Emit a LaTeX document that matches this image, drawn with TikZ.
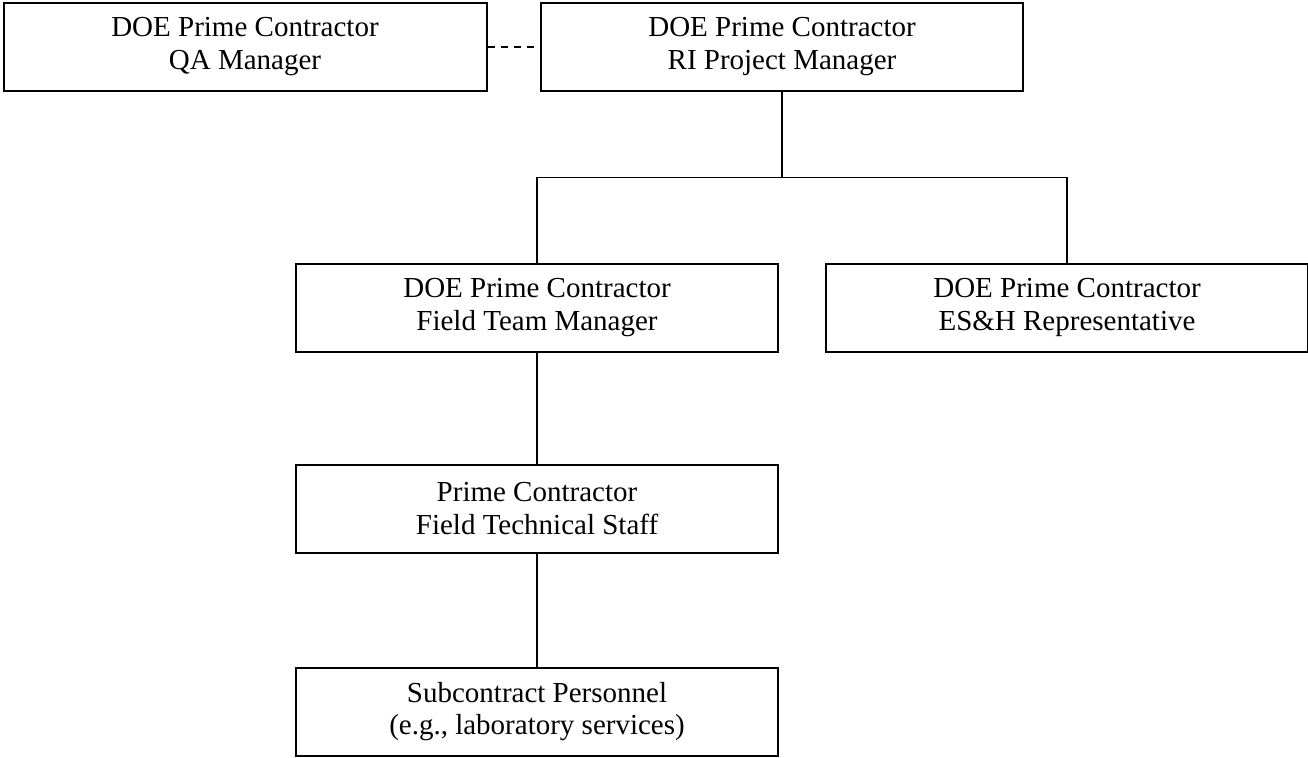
\documentclass[tikz,border=0pt]{standalone}
\usepackage{fontspec}
\setmainfont{Liberation Serif}
\begin{document}
\begin{tikzpicture}[x=1pt,y=-1pt,
  orgbox/.style={draw=black, line width=2pt, minimum width=482pt, minimum height=88pt,
    inner sep=0pt, align=center, font=\fontsize{29}{32.7}\selectfont},
  link/.style={draw=black, line width=1.6pt},
  dashlink/.style={draw=black, line width=2pt, dash pattern=on 7pt off 6pt}]
\useasboundingbox (0,0) rectangle (1308,757);
\node[orgbox, minimum width=483pt] (qa) at (245,46.7) {DOE Prime Contractor\\QA Manager};
\node[orgbox] (ri) at (782,46.7) {DOE Prime Contractor\\RI Project Manager};
\node[orgbox] (ftm) at (537,307.5) {DOE Prime Contractor\\Field Team Manager};
\node[orgbox] (esh) at (1067,307.5) {DOE Prime Contractor\\ES\&H Representative};
\node[orgbox] (tech) at (537,508.5) {Prime Contractor\\Field Technical Staff};
\node[orgbox] (sub) at (537,711.5) {Subcontract Personnel\\(e.g., laboratory services)};
\coordinate (j) at (782,177.3);
\draw[dashlink] (qa.east) -- (ri.west);
\draw[link] (ri.south) -- (j);
\draw[link] (ftm.north) |- (j) -| (esh.north);
\draw[link] (ftm.south) -- (tech.north);
\draw[link] (tech.south) -- (sub.north);
\end{tikzpicture}
\end{document}
